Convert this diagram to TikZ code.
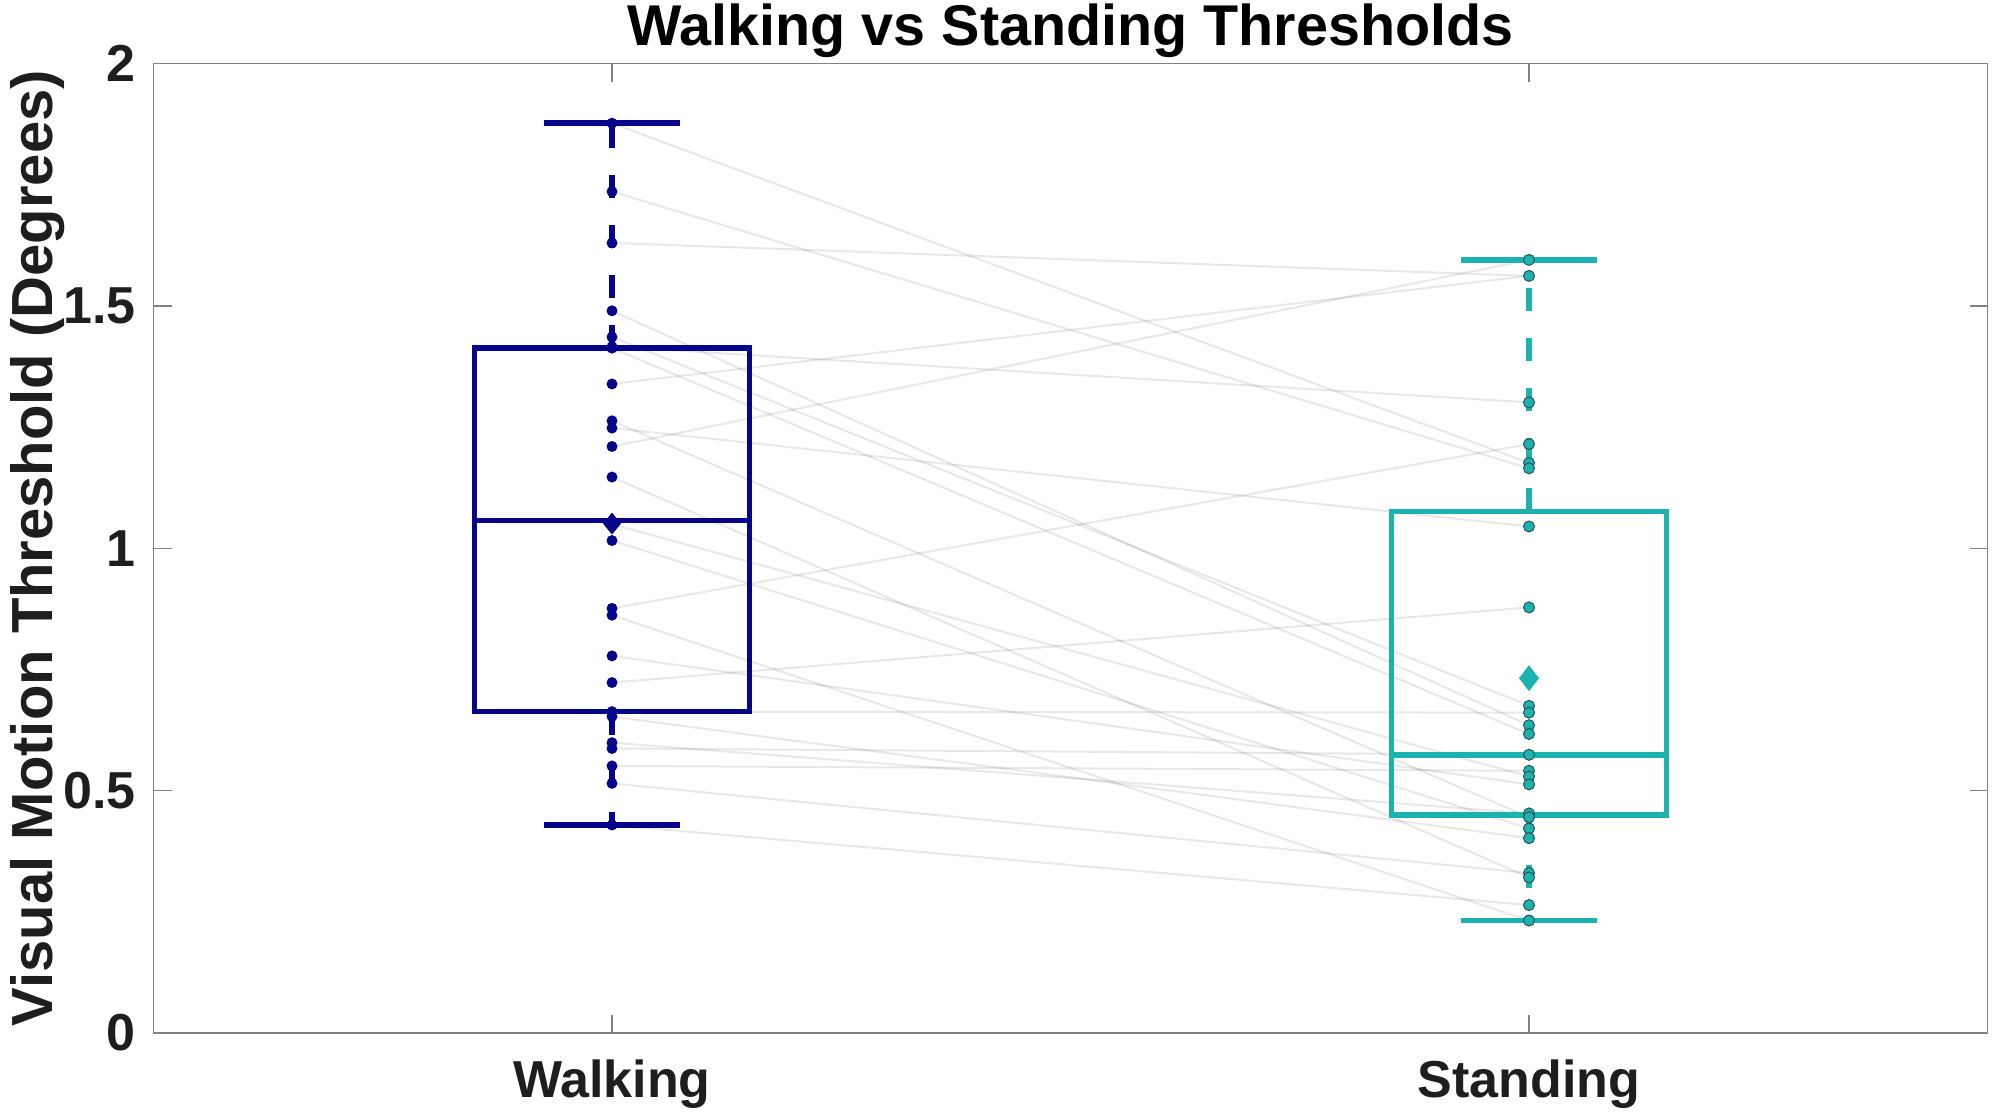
\documentclass[tikz,border=0pt]{standalone}
\usepackage{fontspec}
\setmainfont{Liberation Sans}
\definecolor{wblue}{RGB}{6,6,138}
\definecolor{steal}{RGB}{28,178,176}
\definecolor{sedge}{RGB}{35,85,85}
\definecolor{axgray}{RGB}{130,130,130}
\definecolor{txt}{RGB}{30,30,30}
\tikzset{
  pairline/.style={black, opacity=0.09, line width=2pt},
  boxline/.style={line width=5.5pt},
  whisk/.style={line width=5.5pt, dash pattern=on 23pt off 27pt},
  axline/.style={axgray, line width=1.3pt},
  ticklab/.style={txt, font=\fontsize{52}{60}\selectfont\bfseries, inner sep=0pt},
  titlelab/.style={black, font=\fontsize{57.5}{64}\selectfont\bfseries, inner sep=0pt},
  ylab/.style={txt, font=\fontsize{58}{64}\selectfont\bfseries, inner sep=0pt},
  wdot/.style={fill=wblue},
  sdot/.style={fill=steal, draw=sedge, line width=1pt},
}
\begin{document}
\begin{tikzpicture}
\useasboundingbox (0,0) rectangle (1995pt,1112pt);
\fill[white] (0,0) rectangle (1995pt,1112pt);
\begin{scope}[x=917pt,y=484.7pt,shift={(-305pt,79pt)}]
  % paired subject lines
  \foreach \a/\b in {1.877/1.176,1.736/1.165,1.630/1.562,1.490/0.635,1.436/0.675,
                     1.416/1.301,1.413/0.617,1.339/1.562,1.263/0.445,1.248/1.045,
                     1.210/1.595,1.147/0.321,1.050/0.529,1.016/0.422,0.876/1.215,
                     0.862/0.232,0.778/0.513,0.723/0.878,0.663/0.661,0.653/0.402,
                     0.599/0.453,0.587/0.574,0.551/0.541,0.515/0.330,0.429/0.264}
    {\draw[pairline] (1,\a) -- (2,\b);}
  % axes box and ticks
  \draw[axline] (0.5,0) rectangle (2.5,2);
  \foreach \v in {0,0.5,1,1.5,2} {
    \draw[axline] (0.5,\v) -- ++(18pt,0);
    \draw[axline] (2.5,\v) -- ++(-18pt,0);
  }
  \foreach \g in {1,2} {
    \draw[axline] (\g,0) -- ++(0,18pt);
    \draw[axline] (\g,2) -- ++(0,-18pt);
  }
  % Walking box plot
  \draw[whisk, wblue] (1,1.413) -- (1,1.877);
  \draw[whisk, wblue] (1,0.663) -- (1,0.429);
  \draw[boxline, wblue] (0.9255,1.877) -- (1.0745,1.877);
  \draw[boxline, wblue] (0.9255,0.429) -- (1.0745,0.429);
  \draw[boxline, wblue] (0.85,0.663) rectangle (1.15,1.413);
  \draw[boxline, wblue] (0.85,1.057) -- (1.15,1.057);
  % Standing box plot
  \draw[whisk, steal] (2,1.076) -- (2,1.595);
  \draw[whisk, steal] (2,0.450) -- (2,0.232);
  \draw[boxline, steal] (1.9255,1.595) -- (2.0745,1.595);
  \draw[boxline, steal] (1.9255,0.232) -- (2.0745,0.232);
  \draw[boxline, steal] (1.85,0.450) rectangle (2.15,1.076);
  \draw[boxline, steal] (1.85,0.574) -- (2.15,0.574);
  % Walking points
  \foreach \a in {1.877,1.736,1.630,1.490,1.436,1.416,1.413,1.339,1.263,1.248,
                  1.210,1.147,1.050,1.016,0.876,0.862,0.778,0.723,0.663,0.653,
                  0.599,0.587,0.551,0.515,0.429}
    {\path[wdot] (1,\a) circle[radius=5.5pt];}
  % Standing points
  \foreach \b in {1.595,1.562,1.301,1.215,1.176,1.165,1.045,0.878,0.675,0.661,
                  0.635,0.617,0.574,0.541,0.529,0.513,0.453,0.445,0.422,0.402,
                  0.330,0.321,0.264,0.232}
    {\path[sdot] (2,\b) circle[radius=5.5pt];}
  % means
  \fill[wblue] (1,1.051) ++(-9pt,0) -- ++(9pt,11pt) -- ++(9pt,-11pt) -- ++(-9pt,-11pt) -- cycle;
  \fill[steal] (2,0.732) ++(-10pt,0) -- ++(10pt,13pt) -- ++(10pt,-13pt) -- ++(-10pt,-13pt) -- cycle;
\end{scope}
% labels
\node[titlelab, anchor=base] (title) at (1070.5pt,1066pt) {Walking vs Standing Thresholds};
\node[ylab, anchor=base, rotate=90] (ylabel) at (52pt,564pt) {Visual Motion Threshold (Degrees)};
\node[ticklab, anchor=base] (xw) at (612pt,15pt) {Walking};
\node[ticklab, anchor=base] (xs) at (1529pt,15pt) {Standing};
\foreach \v/\t [count=\i] in {0/0,0.5/0.5,1/1,1.5/1.5,2/2}
  {\node[ticklab, anchor=east] (yt\i) at (136pt,{79pt+484.7pt*\v}) {\t};}
\end{tikzpicture}
\end{document}
